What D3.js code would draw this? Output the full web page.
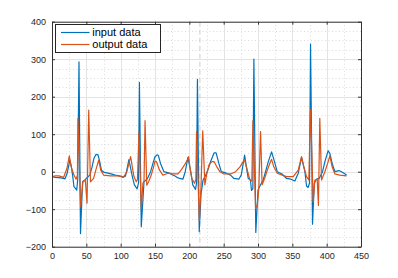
<!DOCTYPE html>
<html>
<head>
<meta charset="utf-8">
<script src="https://cdn.jsdelivr.net/npm/d3@7"></script>
<style>
  html, body { margin: 0; padding: 0; background: #fff; }
  svg { display: block; font-family: "Liberation Sans", Arial, Helvetica, sans-serif; }
</style>
</head>
<body>
<svg id="chart" width="398" height="278"></svg>
<script>
// ---- data ----
const seriesNames = ["input data", "output data"];

const xInput = [0, 5, 10, 15, 19, 22, 26, 28, 30, 32, 33, 36, 37.5, 39.3, 41.5, 44.5, 48, 52, 55, 58, 61, 64, 67, 69, 72, 76, 80, 86, 92, 98, 104, 107, 109, 112, 115, 117, 120, 124, 126, 127.3, 130, 134, 139, 143.6, 147, 150, 153, 155, 158, 163, 167, 171, 175, 178.5, 182, 186, 190.6, 194, 198, 202, 205, 209, 210.5, 211.8, 214.4, 217, 220, 223, 225, 228, 231, 236, 239, 243, 246.5, 252.8, 256, 260, 265, 272, 275.6, 278.5, 280.5, 283.4, 285.8, 289, 290.5, 292.5, 294, 296.8, 300, 303.7, 307.6, 311, 315, 319.8, 324, 328, 335, 341.6, 348, 353.7, 358.6, 363.4, 368.3, 370.7, 373, 375, 376.5, 379.4, 381.9, 385.3, 389, 394, 397.4, 402.2, 404.6, 408, 412, 418, 424, 429];
const yInput = [-13, -15, -16, -17, -19, -5, 31, 15, -9, -40, -42, -49, -20, 293, -165, -27, -22, -14, -9, 10, 35, 46, 45, 31, 4, -2, -3, -6, -9, -11, -14, -12, 5, 32, 5, -13, -35, -46, -30, 238, -147, -27, -18, 0, 22, 40, 45, 43, 22, 0, -2, -4, -8, -11, -15, -18, -20, 0, 38, 0, -35, -47, -30, 246, -160, -60, -22, -12, -4, 10, 27, 50, 50, 22, 0, -3, -6, -9, -18, -20, -9, 22, 44, 9, -18, -22, -50, -45, 300, -162, -49, -35, -22, 0, 27, 53, 27, 0, -6, -18, -20, -25, -4, 38, 0, -38, -42, -30, 340, -140, -31, -20, -18, 0, 27, 56, 49, 22, 0, 3, -3, -9];

const xOutput = [0, 5, 10, 17, 21.8, 25.2, 28, 32, 35, 37, 37.8, 41.7, 45, 48.5, 51, 53.5, 56, 60.6, 64.5, 68, 71, 75, 85, 97, 104, 109, 114.5, 119.3, 122.7, 124.5, 126.6, 130, 132.4, 134, 135.5, 138, 140.7, 144.5, 148, 150, 152, 156.6, 161.5, 169, 176, 183.4, 188, 193, 197, 199, 201, 203.7, 207.6, 209.5, 210.5, 214.5, 217, 219.5, 222.6, 225, 228.6, 233, 236, 240, 244.6, 250.4, 260, 267.4, 273.7, 278.5, 280.5, 284.4, 288.2, 291, 292.6, 296.5, 299, 301.3, 303.7, 306, 309.6, 313.5, 318.3, 319.8, 323, 328, 335.3, 341.6, 351.3, 358.6, 363.4, 366.8, 370.7, 374, 376.5, 380.4, 382.8, 386.2, 388, 390, 392.5, 397.4, 402.2, 404.6, 408, 412, 419, 429];
const yOutput = [-13, -11, -11, -15, 9, 42, 13, -9, -20, -10, 142, -92, -27, -22, -84, 164, -27, -18, 9, 31, 4, -9, -11, -11, -15, 0, 40, -13, -27, -20, 106, -98, -31, -25, 136, -36, -27, -9, 13, 28, 27, 4, -9, -4, -6, -6, 4, 18, 31, 40, 10, -18, -31, -20, 107, -130, -40, 109, -35, -10, 18, 27, 27, 13, 0, -6, -6, 0, 13, 27, 31, 4, -22, -25, 136, -98, -89, -40, 107, -35, -18, 4, 27, 33, 13, -4, -9, -13, -13, 4, 40, 13, -13, -22, 166, -80, -22, -20, -90, 142, -22, 0, 27, 42, 13, -6, -9, -11];

const xTicks = [0, 50, 100, 150, 200, 250, 300, 350, 400, 450];
const yTicks = [-200, -100, 0, 100, 200, 300, 400];
const xMinor = [25, 75, 125, 175, 225, 275, 325, 375, 425];
const yMinor = [-175, -150, -125, -75, -50, -25, 25, 50, 75, 125, 150, 175, 225, 250, 275, 325, 350, 375];
const markerX = [215.4];

// ---- layout / style ----
const colors = ["#0072BD", "#D95319"];
const L = 52, R = 361, T = 21.7, B = 246.7;
const svg = d3.select("#chart");

const x = d3.scaleLinear().domain([0, 450]).range([L, R]);
const y = d3.scaleLinear().domain([-200, 400]).range([B, T]);

svg.append("rect").attr("x", L).attr("y", T).attr("width", R - L).attr("height", B - T).attr("fill", "#fff");

// minor grid (dotted)
const g = svg.append("g");
g.selectAll(".mx").data(xMinor).join("line")
  .attr("x1", d => Math.round(x(d)) + 0.5).attr("x2", d => Math.round(x(d)) + 0.5)
  .attr("y1", T).attr("y2", B)
  .attr("stroke", "#d2d2d2").attr("stroke-width", 0.8).attr("stroke-dasharray", "1,2.5");
g.selectAll(".my").data(yMinor).join("line")
  .attr("y1", d => Math.round(y(d)) + 0.5).attr("y2", d => Math.round(y(d)) + 0.5)
  .attr("x1", L).attr("x2", R)
  .attr("stroke", "#d2d2d2").attr("stroke-width", 0.8).attr("stroke-dasharray", "1,2.5");
// major grid (solid)
g.selectAll(".gx").data(xTicks).join("line")
  .attr("x1", d => Math.round(x(d)) + 0.5).attr("x2", d => Math.round(x(d)) + 0.5)
  .attr("y1", T).attr("y2", B)
  .attr("stroke", "#e3e3e3").attr("stroke-width", 1);
g.selectAll(".gy").data(yTicks).join("line")
  .attr("y1", d => Math.round(y(d)) + 0.5).attr("y2", d => Math.round(y(d)) + 0.5)
  .attr("x1", L).attr("x2", R)
  .attr("stroke", "#e3e3e3").attr("stroke-width", 1);

// dashed marker line
g.selectAll(".mk").data(markerX).join("line")
  .attr("x1", d => x(d)).attr("x2", d => x(d))
  .attr("y1", T).attr("y2", B)
  .attr("stroke", "#cccccc").attr("stroke-width", 1).attr("stroke-dasharray", "5,3");

// series
const line = d3.line().x(d => x(d[0])).y(d => y(d[1]));
const inputPts = xInput.map((v, i) => [v, yInput[i]]);
const outputPts = xOutput.map((v, i) => [v, yOutput[i]]);
svg.append("path").datum(inputPts).attr("d", line)
  .attr("fill", "none").attr("stroke", colors[0]).attr("stroke-width", 1.2).attr("stroke-linejoin", "round");
svg.append("path").datum(outputPts).attr("d", line)
  .attr("fill", "none").attr("stroke", colors[1]).attr("stroke-width", 1.2).attr("stroke-linejoin", "round");

// axes
const axisColor = "#333";
function styleAxis(sel) {
  sel.selectAll("path").attr("stroke", axisColor).attr("stroke-width", 1);
  sel.selectAll("line").attr("stroke", axisColor).attr("stroke-width", 1);
  sel.selectAll("text").attr("fill", "#262626").attr("font-size", 9);
}
svg.append("g").attr("transform", `translate(0,${B})`)
  .call(d3.axisBottom(x).tickValues(xTicks).tickSizeInner(-3).tickSizeOuter(0).tickPadding(6).tickFormat(d3.format("d")))
  .call(styleAxis);
svg.append("g").attr("transform", `translate(${L},0)`)
  .call(d3.axisLeft(y).tickValues(yTicks).tickSizeInner(-3).tickSizeOuter(0).tickPadding(6).tickFormat(d3.format("d")))
  .call(styleAxis);
svg.append("g").attr("transform", `translate(0,${T})`)
  .call(d3.axisTop(x).tickValues(xTicks).tickSizeInner(-3).tickSizeOuter(0).tickFormat(""))
  .call(styleAxis);
svg.append("g").attr("transform", `translate(${R},0)`)
  .call(d3.axisRight(y).tickValues(yTicks).tickSizeInner(-3).tickSizeOuter(0).tickFormat(""))
  .call(styleAxis);

// legend
const lg = svg.append("g");
lg.append("rect").attr("x", 55.5).attr("y", 24.5).attr("width", 105).attr("height", 28)
  .attr("fill", "#fff").attr("stroke", "#262626").attr("stroke-width", 1);
seriesNames.forEach((name, i) => {
  const cy = 32.5 + i * 12;
  lg.append("line").attr("x1", 61).attr("x2", 89.5).attr("y1", cy).attr("y2", cy)
    .attr("stroke", colors[i]).attr("stroke-width", 1.2);
  lg.append("text").attr("x", 92.3).attr("y", cy).attr("dy", "0.36em")
    .attr("font-size", 11).attr("fill", "#000").text(name);
});
</script>
</body>
</html>
